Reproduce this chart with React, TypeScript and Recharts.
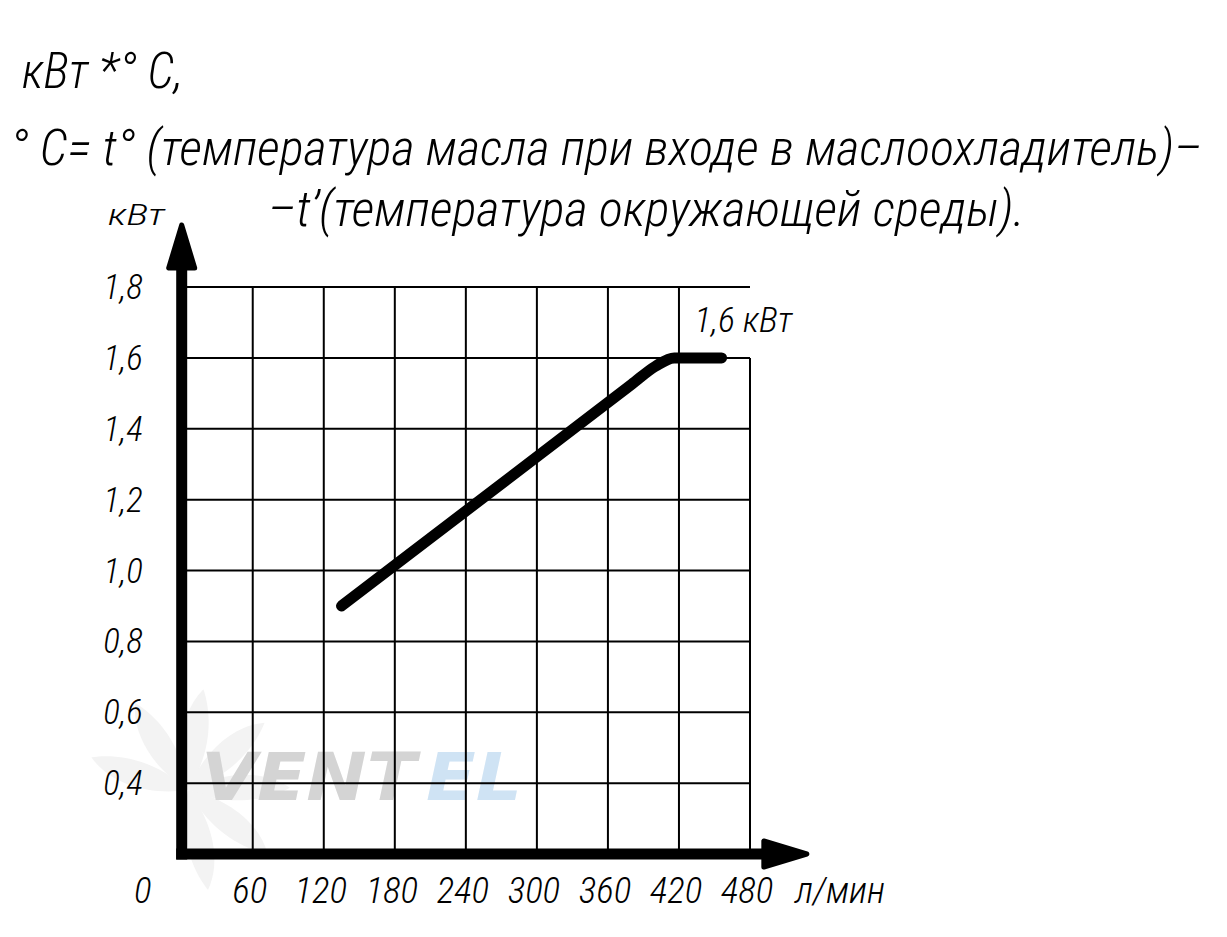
import React from "react";
import { LineChart, Line, XAxis, YAxis, ReferenceLine, ReferenceDot } from "recharts";

// ---- data ----
const xTicks = [0, 60, 120, 180, 240, 300, 360, 420, 480];
const yTicks = [0.4, 0.6, 0.8, 1.0, 1.2, 1.4, 1.6, 1.8];
const flowLpm = [135, 380, 400, 416, 456];
const powerKw = [0.9, 1.525, 1.576, 1.6, 1.6];
const plateauLabel = "1,6 кВт";
const xUnit = "л/мин";
const yUnit = "кВт";
const titleLine1 = "кВт *° С,";
const titleLine2 = "° С= t° (температура масла при входе в маслоохладитель)–";
const titleLine3 = "–t’(температура окружающей среды).";
const bladeAngles = [-150, -110, -70, -30, 10, 50, 90];

const X_MIN = 0;
const X_MAX = 480;
const Y_MIN = 0.2;
const Y_MAX = 1.8;
const X_ARROW_BASE = 490;
const X_ARROW_TIP = 528;
const Y_ARROW_BASE = 1.848;
const Y_ARROW_TIP = 1.975;

const data = flowLpm.map((x, i) => ({ x, y: powerKw[i] }));

const FONT = "'Roboto Condensed','Roboto','Liberation Sans',sans-serif";
const FW = 300;
const W = 1211;
const H = 921;

const fmt = (v: number) => v.toFixed(1).replace(".", ",");

const XTick = (props: any) => {
  const { x, y, payload } = props;
  const v = payload.value;
  const dx = v === 0 ? -39 : -3;
  return (
    <text x={x + dx} y={y + 41} textAnchor="middle" fontFamily={FONT} fontWeight={FW} fontStyle="italic" fontSize={37} fill="#000">
      {String(v)}
    </text>
  );
};

const YTick = (props: any) => {
  const { x, y, payload } = props;
  return (
    <text x={x - 31} y={y + 12} textAnchor="end" fontFamily={FONT} fontWeight={FW} fontStyle="italic" fontSize={35} fill="#000">
      {fmt(payload.value)}
    </text>
  );
};

const ArrowUp = (p: any) => {
  const { cx, cy } = p;
  if (cx == null || cy == null) return null;
  return (
    <path
      d={`M${cx},${cy} L${cx - 13},${cy + 43} L${cx + 13},${cy + 43} Z`}
      fill="#000"
      stroke="#000"
      strokeWidth={5}
      strokeLinejoin="round"
    />
  );
};

const ArrowRight = (p: any) => {
  const { cx, cy } = p;
  if (cx == null || cy == null) return null;
  return (
    <path
      d={`M${cx},${cy} L${cx - 43},${cy - 13} L${cx - 43},${cy + 13} Z`}
      fill="#000"
      stroke="#000"
      strokeWidth={5}
      strokeLinejoin="round"
    />
  );
};

const PlateauText = (p: any) => {
  const { cx, cy } = p;
  if (cx == null || cy == null) return null;
  return (
    <text x={cx} y={cy - 26} fontFamily={FONT} fontWeight={FW} fontStyle="italic" fontSize={35} fill="#000" textLength={98} lengthAdjust="spacingAndGlyphs">
      {plateauLabel}
    </text>
  );
};

export default function App() {
  const verticals = xTicks.filter((v) => v > X_MIN);
  return (
    <div style={{ position: "relative", width: W, height: H, background: "#fff" }}>
      <svg width={W} height={H} style={{ position: "absolute", left: 0, top: 0 }}>
        {/* faint watermark */}
        <g transform="translate(180,782)">
          {bladeAngles.map((a) => (
            <path
              key={a}
              d="M0,0 C30,-24 70,-34 100,-20 C80,-4 45,10 0,0 Z"
              fill="#f3f3f3"
              transform={`rotate(${a})`}
            />
          ))}
        </g>
        <text x={193} y={792} fontFamily="'DejaVu Sans'" fontWeight="bold" fontStyle="italic" fontSize={66} fill="#d4d4d4" textLength={215} lengthAdjust="spacingAndGlyphs">
          VENT
        </text>
        <text x={418} y={792} fontFamily="'DejaVu Sans'" fontWeight="bold" fontStyle="italic" fontSize={66} fill="#cfe3f4" textLength={96} lengthAdjust="spacingAndGlyphs">
          EL
        </text>
      </svg>
      <div style={{ position: "absolute", left: 0, top: 0 }}>
        <LineChart width={W} height={H} data={data} margin={{ top: 279, right: 469, bottom: 35, left: 113.7 }}>
          <XAxis
            type="number"
            dataKey="x"
            domain={[X_MIN, X_MAX]}
            ticks={xTicks}
            axisLine={false}
            tickLine={false}
            tick={<XTick />}
            height={40}
            interval={0}
          />
          <YAxis
            type="number"
            domain={[Y_MIN, Y_MAX]}
            ticks={yTicks}
            axisLine={false}
            tickLine={false}
            tick={<YTick />}
            width={60}
            interval={0}
          />
          {yTicks.map((v) => (
            <ReferenceLine
              key={"h" + v}
              segment={[{ x: X_MIN, y: v }, { x: X_MAX, y: v }]}
              stroke="#000"
              strokeWidth={2}
              ifOverflow="visible"
            />
          ))}
          {verticals.map((v) => (
            <ReferenceLine
              key={"v" + v}
              segment={[{ x: v, y: Y_MIN }, { x: v, y: v === X_MAX ? 1.6 : Y_MAX }]}
              stroke="#000"
              strokeWidth={2}
              ifOverflow="visible"
            />
          ))}
          <ReferenceLine
            segment={[{ x: X_MIN, y: Y_MIN }, { x: X_MIN, y: Y_ARROW_BASE }]}
            stroke="#000"
            strokeWidth={11}
            strokeLinecap="square"
            ifOverflow="visible"
          />
          <ReferenceLine
            segment={[{ x: X_MIN, y: Y_MIN }, { x: X_ARROW_BASE, y: Y_MIN }]}
            stroke="#000"
            strokeWidth={11}
            strokeLinecap="square"
            ifOverflow="visible"
          />
          <ReferenceDot x={X_MIN} y={Y_ARROW_TIP} r={1} ifOverflow="visible" shape={ArrowUp} />
          <ReferenceDot x={X_ARROW_TIP} y={Y_MIN} r={1} ifOverflow="visible" shape={ArrowRight} />
          <ReferenceDot x={433} y={1.6} r={1} ifOverflow="visible" shape={PlateauText} />
          <Line
            type="monotone"
            dataKey="y"
            stroke="#000"
            strokeWidth={11}
            strokeLinecap="round"
            strokeLinejoin="round"
            dot={false}
            activeDot={false}
            isAnimationActive={false}
          />
        </LineChart>
      </div>
      <svg width={W} height={H} style={{ position: "absolute", left: 0, top: 0, pointerEvents: "none" }}>
        <g fontFamily={FONT} fontWeight={FW} fontStyle="italic" fill="#000">
          <text x={14} y={80} fontSize={50} textLength={161} lengthAdjust="spacingAndGlyphs">{titleLine1}</text>
          <text x={2} y={157} fontSize={50} textLength={1192} lengthAdjust="spacingAndGlyphs">{titleLine2}</text>
          <text x={260} y={218} fontSize={50} textLength={757} lengthAdjust="spacingAndGlyphs">{titleLine3}</text>
          <text x={100} y={217} fontSize={29} textLength={57} lengthAdjust="spacingAndGlyphs">{yUnit}</text>
          <text x={787} y={895} fontSize={37} textLength={90} lengthAdjust="spacingAndGlyphs">{xUnit}</text>
        </g>
      </svg>
    </div>
  );
}
